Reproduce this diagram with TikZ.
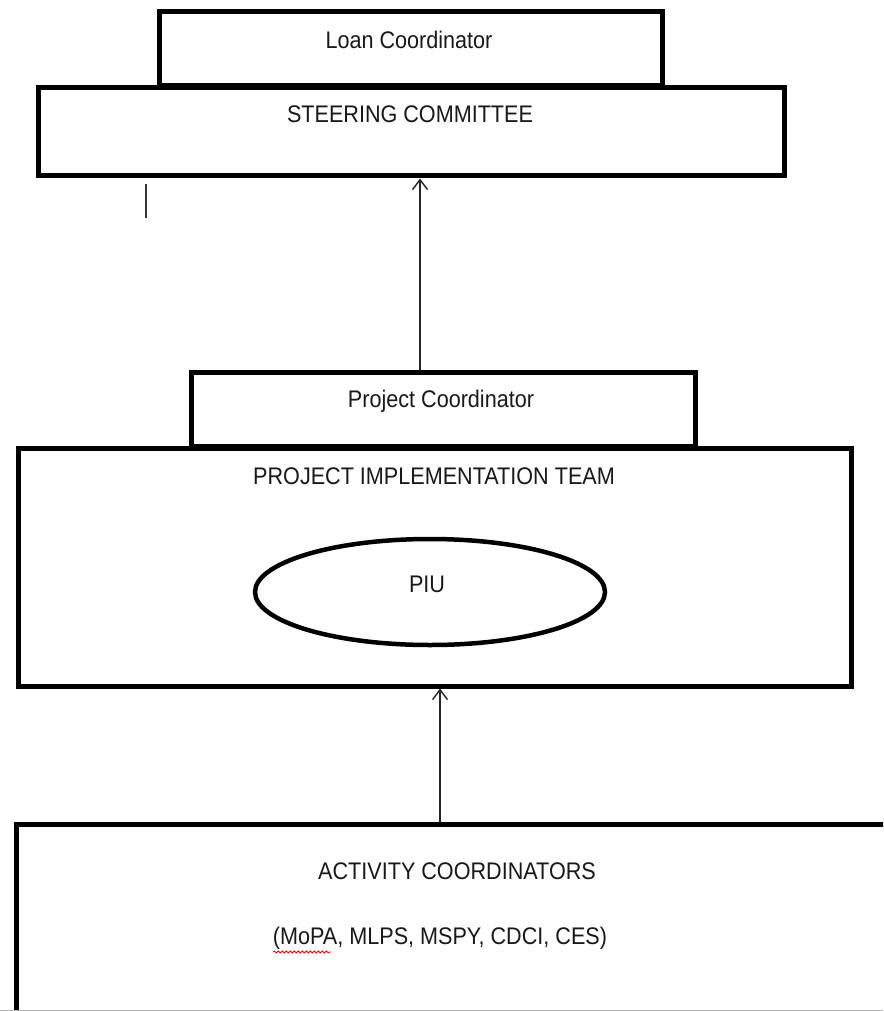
\documentclass[tikz,border=0pt]{standalone}
\usepackage{fontspec}
\setmainfont[FakeStretch=0.9]{Liberation Sans}
\usetikzlibrary{arrows.meta,decorations.pathmorphing,shapes.geometric}
\begin{document}
\begin{tikzpicture}[x=1pt,y=-1pt,
  box/.style={draw, line width=5pt, rectangle, inner sep=0pt},
  oval/.style={draw, line width=4.5pt, ellipse, inner sep=0pt},
  lbl/.style={anchor=base, font=\fontsize{24}{26}\selectfont, inner sep=0pt, text=black!90},
  arr/.style={-{Straight Barb[length=10pt,width=15pt,line width=1.4pt]}, line width=1.4pt, draw=black!85}]
\clip (0,0) rectangle (883,1011);
\fill[white] (0,0) rectangle (883,1011);

% top: loan coordinator over the steering committee
\node[box, minimum width=503pt, minimum height=74pt] (loan) at (410.5,49) {};
\node[box, minimum width=746pt, minimum height=88pt] (sc) at (411,132) {};
\node[lbl] (loanT) at (409,49) {Loan Coordinator};
\node[lbl] (scT) at (410,123) {STEERING COMMITTEE};
\draw[line width=2pt, black!80] (146,184) -- (146,218);

% middle: project coordinator over the implementation team
\node[box, minimum width=504pt, minimum height=74pt] (pc) at (443,409) {};
\node[box, minimum width=833pt, minimum height=238pt] (pit) at (434.5,567) {};
\node[lbl] (pcT) at (441,407) {Project Coordinator};
\node[lbl] (pitT) at (434,484) {PROJECT IMPLEMENTATION TEAM};
\node[oval, minimum width=350pt, minimum height=106pt] (piu) at (430,592) {};
\node[lbl] (piuT) at (427,592) {PIU};

% bottom: activity coordinators (runs past the page edge)
\node[box, minimum width=889pt, minimum height=216pt] (ac) at (460.5,932) {};
\node[lbl] (acT) at (457,879) {ACTIVITY COORDINATORS};
\node[lbl] (acL) at (440,944) {(MoPA, MLPS, MSPY, CDCI, CES)};
\draw[red, line width=0.8pt, decorate, decoration={snake, amplitude=1pt, segment length=4pt}]
  (273,952) -- (331,952);
\draw[gray!60, line width=1pt] (0,1010.5) -- (883,1010.5);

% reporting lines
\draw[arr] (pc.north -| 420,0) -- (sc.south -| 420,0);
\draw[arr] (ac.north -| 440,0) -- (pit.south -| 440,0);
\end{tikzpicture}
\end{document}
